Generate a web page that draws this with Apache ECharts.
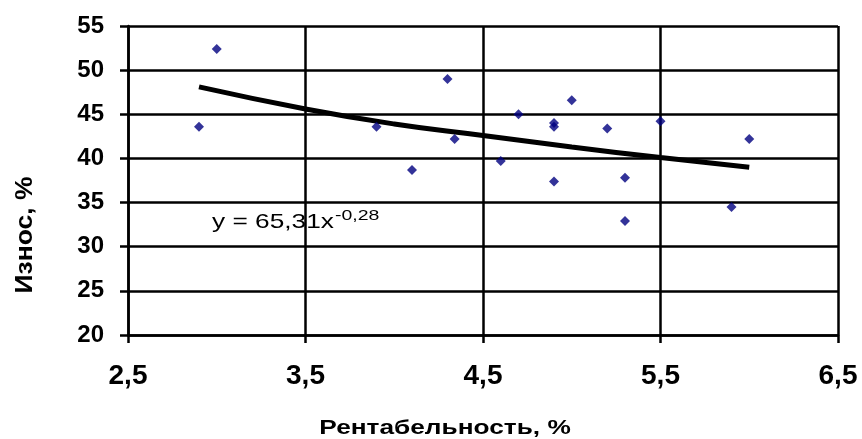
<!DOCTYPE html>
<html>
<head>
<meta charset="utf-8">
<script src="https://cdn.jsdelivr.net/npm/echarts@6/dist/echarts.min.js"></script>
<style>
    html, body { margin: 0; padding: 0; background: #fff; }
    #chart { width: 862px; height: 439px; }
</style>
</head>
<body>
<div id="chart"></div>
<script>
// рентабельность / износ, точки
var rentX = [2.9, 3.0, 3.9, 4.1, 4.3, 4.34, 4.6, 4.7, 4.9, 4.9, 4.9, 5.0, 5.2, 5.3, 5.3, 5.5, 5.9, 6.0];
var iznosY = [43.6, 52.4, 43.6, 38.7, 49.0, 42.2, 39.7, 45.0, 43.6, 44.0, 37.4, 46.6, 43.4, 37.8, 32.9, 44.2, 34.5, 42.2];

// линия тренда (степенная)
var trendX = [2.9, 3.5, 4.0, 4.5, 5.0, 5.5, 6.0];
var trendY = [48.1, 45.6, 43.9, 42.6, 41.3, 40.1, 39.0];

var xTicks = ['2,5', '3,5', '4,5', '5,5', '6,5'];

var font = 'Liberation Sans, Arial, sans-serif';

var myChart = echarts.init(document.getElementById('chart'));

var points = rentX.map(function (x, i) { return [x, iznosY[i]]; });
var trend = trendX.map(function (x, i) { return [x, trendY[i]]; });

var option = {
    animation: false,
    grid: { left: 128, right: 24, top: 26, bottom: 104 },
    xAxis: {
        type: 'value',
        min: 2.5,
        max: 6.5,
        interval: 1,
        axisLine: { lineStyle: { color: '#000', width: 2.5 } },
        axisTick: { show: true, length: 8, lineStyle: { color: '#000', width: 2.5 } },
        splitLine: { show: true, lineStyle: { color: '#000', width: 2.5 } },
        axisLabel: {
            margin: 27,
            fontSize: 28,
            fontWeight: 'bold',
            fontFamily: font,
            color: '#000',
            formatter: function (v) { return xTicks[Math.round(v - 2.5)]; }
        }
    },
    yAxis: {
        type: 'value',
        min: 20,
        max: 55,
        interval: 5,
        axisLine: { show: true, lineStyle: { color: '#000', width: 2.5 } },
        axisTick: { show: true, length: 8, lineStyle: { color: '#000', width: 2.5 } },
        splitLine: { show: true, lineStyle: { color: '#000', width: 2.5 } },
        axisLabel: {
            margin: 24,
            fontSize: 24,
            fontWeight: 'bold',
            fontFamily: font,
            color: '#000'
        }
    },
    series: [
        {
            type: 'line',
            data: trend,
            smooth: true,
            symbol: 'none',
            lineStyle: { color: '#000', width: 5 },
            z: 3
        },
        {
            type: 'scatter',
            data: points,
            symbol: 'diamond',
            symbolSize: 10,
            itemStyle: { color: '#000080' },
            z: 4
        }
    ],
    graphic: [
        {
            type: 'text',
            x: 212,
            y: 233,
            scaleX: 1.25,
            style: {
                text: 'y = 65,31x',
                fontSize: 21,
                fontFamily: font,
                fill: '#000',
                align: 'left',
                verticalAlign: 'bottom'
            }
        },
        {
            type: 'text',
            x: 335,
            y: 208,
            scaleX: 1.3,
            style: {
                text: '-0,28',
                fontSize: 15,
                fontFamily: font,
                fill: '#000',
                align: 'left',
                verticalAlign: 'top'
            }
        },
        {
            type: 'text',
            x: 445,
            y: 428,
            scaleX: 1.25,
            style: {
                text: 'Рентабельность, %',
                fontSize: 21,
                fontWeight: 'bold',
                fontFamily: font,
                fill: '#000',
                align: 'center',
                verticalAlign: 'middle'
            }
        },
        {
            type: 'text',
            x: 26,
            y: 235,
            rotation: Math.PI / 2,
            scaleX: 1.15,
            style: {
                text: 'Износ, %',
                fontSize: 23,
                fontWeight: 'bold',
                fontFamily: font,
                fill: '#000',
                align: 'center',
                verticalAlign: 'middle'
            }
        }
    ]
};

myChart.setOption(option);
</script>
</body>
</html>
